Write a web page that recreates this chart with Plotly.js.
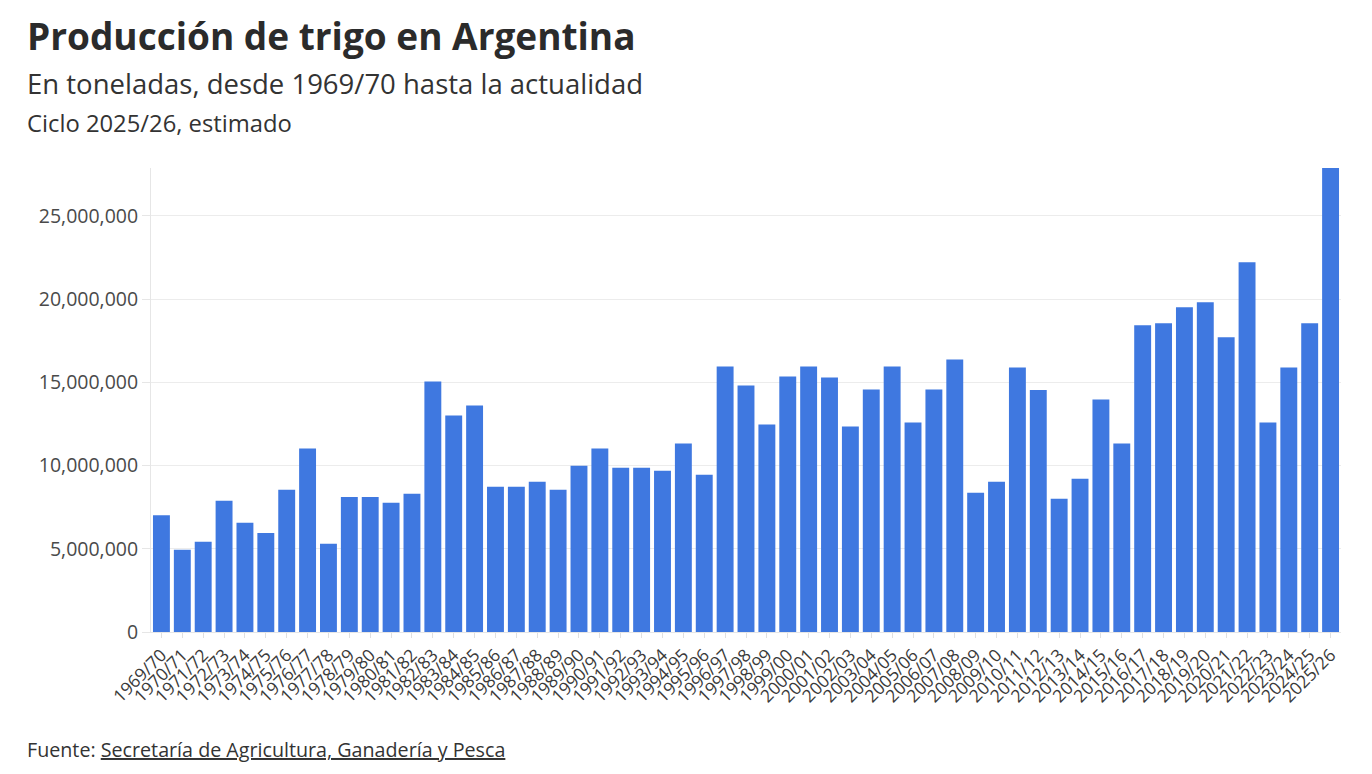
<!DOCTYPE html>
<html>
<head>
<meta charset="utf-8">
<script src="https://cdn.plot.ly/plotly-3.0.1.min.js"></script>
<style>
  html, body { margin: 0; padding: 0; background: #ffffff; }
  #chart { width: 1372px; height: 774px; }
</style>
</head>
<body>
<div id="chart"></div>
<script>
const seasons = [
  "1969/70","1970/71","1971/72","1972/73","1973/74","1974/75","1975/76","1976/77","1977/78","1978/79",
  "1979/80","1980/81","1981/82","1982/83","1983/84","1984/85","1985/86","1986/87","1987/88","1988/89",
  "1989/90","1990/91","1991/92","1992/93","1993/94","1994/95","1995/96","1996/97","1997/98","1998/99",
  "1999/00","2000/01","2001/02","2002/03","2003/04","2004/05","2005/06","2006/07","2007/08","2008/09",
  "2009/10","2010/11","2011/12","2012/13","2013/14","2014/15","2015/16","2016/17","2017/18","2018/19",
  "2019/20","2020/21","2021/22","2022/23","2023/24","2024/25","2025/26"
];

const production = [
  7020000, 4940000, 5420000, 7890000, 6560000, 5940000, 8550000, 11020000, 5300000, 8110000,
  8110000, 7760000, 8310000, 15050000, 13000000, 13600000, 8730000, 8730000, 9030000, 8550000,
  9990000, 11020000, 9870000, 9870000, 9690000, 11320000, 9450000, 15950000, 14810000, 12460000,
  15350000, 15950000, 15290000, 12340000, 14570000, 15950000, 12580000, 14570000, 16370000, 8370000,
  9030000, 15890000, 14530000, 8010000, 9210000, 13960000, 11320000, 18420000, 18540000, 19500000,
  19800000, 17700000, 22210000, 12580000, 15890000, 18540000, 27870000
];

const titleText = "Producción de trigo en Argentina";
const subtitleText = "En toneladas, desde 1969/70 hasta la actualidad";
const noteText = "Ciclo 2025/26, estimado";
const sourceLabel = "Fuente: ";
const sourceName = "Secretaría de Agricultura, Ganadería y Pesca";

const FONT = "'Open Sans', 'Noto Sans', sans-serif";

const trace = {
  type: "bar",
  x: seasons,
  y: production,
  marker: { color: "#3f78e0" },
  hoverinfo: "x+y"
};

const layout = {
  width: 1372,
  height: 774,
  paper_bgcolor: "#ffffff",
  plot_bgcolor: "#ffffff",
  margin: { l: 151, r: 31, t: 168, b: 142 },
  bargap: 0.19,
  showlegend: false,
  font: { family: FONT, color: "#333333" },
  xaxis: {
    type: "category",
    tickmode: "array",
    tickvals: seasons,
    ticktext: seasons,
    tickangle: -45,
    tickfont: { family: FONT, size: 17.5, color: "#3a3a3a" },
    ticks: "outside",
    ticklen: 5,
    tickcolor: "#e0e0e0",
    showline: true,
    linecolor: "#e6e6e6",
    showgrid: false,
    automargin: false
  },
  yaxis: {
    range: [0, Math.max(...production)],
    dtick: 5000000,
    tickformat: ",d",
    tickfont: { family: FONT, size: 19.5, color: "#4a4a4a" },
    ticks: "outside",
    ticklen: 8,
    tickcolor: "#e6e6e6",
    showline: true,
    linecolor: "#e6e6e6",
    gridcolor: "#ececec",
    zeroline: false,
    automargin: false
  },
  annotations: [
    {
      text: "<b>" + titleText + "</b>",
      xref: "paper", yref: "paper",
      x: -0.1062, y: 1.2845, xanchor: "left", yanchor: "middle",
      showarrow: false,
      font: { family: FONT, size: 37, color: "#2b2b2b" }
    },
    {
      text: subtitleText,
      xref: "paper", yref: "paper",
      x: -0.1062, y: 1.183, xanchor: "left", yanchor: "middle",
      showarrow: false,
      font: { family: FONT, size: 27.5, color: "#333333" }
    },
    {
      text: noteText,
      xref: "paper", yref: "paper",
      x: -0.1062, y: 1.097, xanchor: "left", yanchor: "middle",
      showarrow: false,
      font: { family: FONT, size: 23.8, color: "#333333" }
    },
    {
      text: sourceLabel + "<u>" + sourceName + "</u>",
      xref: "paper", yref: "paper",
      x: -0.1062, y: -0.254, xanchor: "left", yanchor: "middle",
      showarrow: false,
      font: { family: FONT, size: 19.7, color: "#333333" }
    }
  ]
};

Plotly.newPlot("chart", [trace], layout, { displayModeBar: false });
</script>
</body>
</html>
